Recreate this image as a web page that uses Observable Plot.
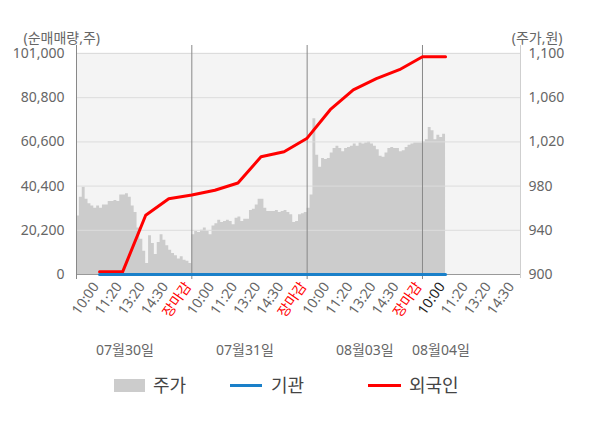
<!DOCTYPE html>
<html><head><meta charset="utf-8">
<script src="https://cdn.jsdelivr.net/npm/d3@7"></script>
<script src="https://cdn.jsdelivr.net/npm/@observablehq/plot@0.6"></script>
<style>
body{margin:0;background:#fff;font-family:"Noto Sans","Noto Sans CJK KR",sans-serif;}
#chart{width:600px;}
#chart svg{display:block;}
#chart svg text{font-size:14px;}
#chart svg g[aria-label="unit"] text{font-size:13px;}
#legend{position:relative;width:600px;height:58px;}
#legend .sw{position:absolute;}
#legend .lt{position:absolute;top:0;line-height:30px;font-size:18px;color:#444;}
</style></head><body>
<div id="chart"></div>
<div id="legend">
  <span class="sw" style="left:114px;top:9px;width:31px;height:13px;background:#cccccc"></span>
  <span class="lt" style="left:153px">주가</span>
  <span class="sw" style="left:230px;top:14px;width:32px;height:3px;background:#1a80c9"></span>
  <span class="lt" style="left:271px">기관</span>
  <span class="sw" style="left:368px;top:14px;width:33px;height:3px;background:#ff0000"></span>
  <span class="lt" style="left:409px">외국인</span>
</div>
<script>
// ---- data ----
const dayLabels = ["07월30일", "07월31일", "08월03일", "08월04일"];
const dayLabelSlot = [2.1, 7.3, 12.5, 15.8];
const timeLabels = ["10:00", "11:20", "13:20", "14:30", "장마감"];
const slotsPerDay = 5;
const samplesPerDay = 40;

// stock price (원), sampled evenly through each session
const price0730 = [953, 970, 979, 968, 964, 962, 960, 962, 960, 963,
                   963, 966, 966, 967, 966, 972, 972, 973, 970, 962,
                   956, 942, 932, 921, 910, 935, 928, 918, 929, 936,
                   931, 926, 922, 919, 917, 914, 916, 913, 912, 910];
const price0731 = [936, 939, 938, 940, 942, 939, 936, 944, 946, 949,
                   947, 948, 949, 948, 945, 951, 952, 948, 950, 950,
                   958, 959, 963, 968, 968, 960, 957, 957, 957, 958,
                   956, 957, 958, 956, 954, 947, 948, 954, 955, 956];
const price0803 = [960, 972, 1041, 1008, 997, 1005, 1004, 1005, 1010, 1014,
                   1016, 1014, 1011, 1014, 1015, 1016, 1018, 1016, 1019, 1018,
                   1019, 1020, 1018, 1016, 1013, 1007, 1006, 1010, 1014, 1015,
                   1014, 1014, 1011, 1012, 1015, 1017, 1018, 1019, 1019, 1019];
const price0804 = [1020, 1022, 1033, 1030, 1022, 1026, 1024, 1027, 1030];
const prices = [price0730, price0731, price0803, price0804];

// cumulative net buying (주) at 10:00, 11:20, 13:20, 14:30, 장마감 of each day
const foreign = [1200, 1200, 27100, 34600, 36300,
                 38500, 41800, 53800, 56100, 62300,
                 75300, 84400, 89500, 93600, 99500,
                 99500];
const institution = [0, 0, 0, 0, 0, 0, 0, 0, 0, 0, 0, 0, 0, 0, 0, 0];

const leftTicks = [0, 20200, 40400, 60600, 80800, 101000];
const rightTicks = [900, 940, 980, 1020, 1060, 1100];
const xEnd = 19.25;

// ---- build tables ----
const pMin = 900, pMax = 1100, vMax = 101000;
const toLeft = p => (p - pMin) / (pMax - pMin) * vMax;
const fromLeft = v => pMin + v / vMax * (pMax - pMin);

const priceData = prices.flatMap((arr, d) =>
  arr.map((p, i) => ({x: d * slotsPerDay + i * slotsPerDay / samplesPerDay, price: p})));
const foreignData = foreign.map((v, i) => ({x: i + 1, v}));
const instData = institution.map((v, i) => ({x: i + 1, v}));

const tickData = [];
dayLabels.forEach((_, d) => timeLabels.forEach((t, j) => {
  const x = d * slotsPerDay + j + 1;
  if (x <= xEnd) tickData.push({x, label: t, kind: j === 4 ? "close" : (d === 3 && j === 0 ? "now" : "time")});
}));
const dateData = dayLabels.map((label, i) => ({x: dayLabelSlot[i], label}));

const font = '"Noto Sans","Noto Sans CJK KR",sans-serif';
const fmt = d3.format(",");

const chart = Plot.plot({
  width: 600, height: 370,
  marginLeft: 76, marginRight: 80, marginTop: 53, marginBottom: 96,
  x: {domain: [0, xEnd], axis: null},
  y: {domain: [0, vMax], axis: null},
  style: {fontFamily: font, fontSize: "14px", background: "#fff"},
  marks: [
    Plot.frame({fill: "#f4f4f4", stroke: null, insetTop: -1}),
    Plot.areaY(priceData, {x: "x", y: d => toLeft(d.price), fill: "#cccccc", curve: "step-after"}),
    Plot.ruleY(leftTicks.slice(1), {stroke: "#dcdcdc"}),
    Plot.ruleY([0], {stroke: "#999"}),
    Plot.ruleX([0, 5, 10, 15], {stroke: "#888", insetTop: -8, insetBottom: -5}),
    Plot.ruleX([xEnd], {stroke: "#cfcfcf", insetTop: -8, insetBottom: -4}),
    Plot.line(foreignData, {x: "x", y: "v", stroke: "#ff0000", strokeWidth: 3}),
    Plot.line(instData, {x: "x", y: "v", stroke: "#1a80c9", strokeWidth: 3}),
    Plot.axisY(leftTicks, {anchor: "left", label: null, tickSize: 0, tickPadding: 12, tickFormat: fmt, fill: "#666", fontSize: 14}),
    Plot.axisY(rightTicks.map(toLeft), {anchor: "right", label: null, tickSize: 0, tickPadding: 8,
      tickFormat: v => fmt(Math.round(fromLeft(v))), fill: "#666", fontSize: 14}),
    Plot.text(tickData.filter(d => d.kind === "time"), {x: "x", text: "label", frameAnchor: "bottom",
      rotate: -55, textAnchor: "end", dy: 12, fill: "#666", fontSize: 14}),
    Plot.text(tickData.filter(d => d.kind === "close"), {x: "x", text: "label", frameAnchor: "bottom",
      rotate: -55, textAnchor: "end", dy: 12, fill: "#ff0000", fontSize: 14}),
    Plot.text(tickData.filter(d => d.kind === "now"), {x: "x", text: "label", frameAnchor: "bottom",
      rotate: -55, textAnchor: "end", dy: 12, fill: "#222", fontSize: 14}),
    Plot.text(dateData, {x: "x", text: "label", frameAnchor: "bottom", dy: 80, fill: "#666", fontSize: 14}),
    Plot.text(["(순매매량,주)"], {ariaLabel: "unit", frameAnchor: "top-left", dx: -53, dy: -20, textAnchor: "start", fill: "#666", fontSize: 13}),
    Plot.text(["(주가,원)"], {ariaLabel: "unit", frameAnchor: "top-right", dx: 42, dy: -20, textAnchor: "end", fill: "#666", fontSize: 13})
  ]
});
document.getElementById("chart").appendChild(chart);
</script>
</body></html>
